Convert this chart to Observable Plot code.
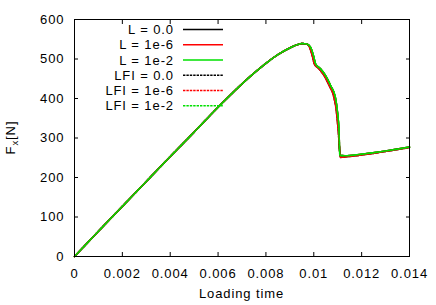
<!DOCTYPE html>
<html><head><meta charset="utf-8">
<script src="https://cdn.jsdelivr.net/npm/d3@7"></script>
<script src="https://cdn.jsdelivr.net/npm/@observablehq/plot@0.6"></script>
<style>body{margin:0;background:#fff} svg{display:block}</style>
</head><body><div id="chart"></div>
<script>
// ---- data ----
const tRise = [0, 0.001, 0.002, 0.003, 0.004, 0.005, 0.006, 0.0065, 0.007, 0.0075, 0.008, 0.0085, 0.009, 0.0093, 0.0095, 0.0097];
const fRise = [0, 64, 127, 190, 253, 315, 378, 408, 437, 464, 489, 511, 528, 536, 539, 538];
// softening branch, curve A (L = ..., LFI = 1e-2)
const tDropA = [0.00986, 0.0100, 0.01007, 0.01028, 0.01049, 0.0107, 0.0109, 0.01098, 0.01105, 0.01109, 0.0113, 0.0120, 0.0130, 0.0140];
const fDropA = [530, 505, 488, 475, 458, 433, 403, 370, 320, 256, 255, 259, 267, 277];
// softening branch, curve B (LFI = 0.0, LFI = 1e-6)
const tDropB = [0.00982, 0.00995, 0.01002, 0.01022, 0.01043, 0.01064, 0.01084, 0.01094, 0.01102, 0.01112, 0.0113, 0.0120, 0.0130, 0.0140];
const fDropB = [530, 505, 488, 475, 458, 433, 403, 370, 320, 251, 252, 257, 266, 276];

const seriesNames = ["L = 0.0", "L = 1e-6", "L = 1e-2", "LFI = 0.0", "LFI = 1e-6", "LFI = 1e-2"];
const seriesColors = ["#000000", "#ff0000", "#00e000", "#000000", "#ff0000", "#00e000"];
const seriesDashed = [false, false, false, true, true, true];
const seriesBranch = ["A", "A", "A", "B", "B", "A"];

const xTicks = [0, 0.002, 0.004, 0.006, 0.008, 0.01, 0.012, 0.014];
const xTickLabels = ["0", "0.002", "0.004", "0.006", "0.008", "0.01", "0.012", "0.014"];
const yTicks = [0, 100, 200, 300, 400, 500, 600];
const yTickLabels = ["0", "100", "200", "300", "400", "500", "600"];

// ---- build table ----
const branches = {A: [tDropA, fDropA], B: [tDropB, fDropB]};
const rows = [];
seriesNames.forEach((name, i) => {
  const [td, fd] = branches[seriesBranch[i]];
  const t = tRise.concat(td), f = fRise.concat(fd);
  t.forEach((v, j) => rows.push({series: name, t: v, f: f[j]}));
});

const W = 436, H = 305, ML = 74, MR = 27, MT = 19, MB = 49;
const lineMarks = seriesNames.map((name, i) =>
  Plot.line(rows.filter(r => r.series === name), {
    x: "t", y: "f", stroke: seriesColors[i], strokeWidth: 1.6, curve: "monotone-x",
    strokeDasharray: seriesDashed[i] ? "2.4,1" : null
  })
);

const plot = Plot.plot({
  width: W, height: H, marginLeft: ML, marginRight: MR, marginTop: MT, marginBottom: MB,
  style: {fontFamily: "'Liberation Sans', Arial, sans-serif", fontSize: "13px", letterSpacing: "0.9px", background: "#fff", color: "#000"},
  x: {domain: [0, 0.014]},
  y: {domain: [0, 600]},
  marks: [
    ...lineMarks,
    Plot.frame({stroke: "#000", strokeWidth: 1}),
    Plot.axisX({ticks: xTicks, anchor: "bottom", tickSize: -4, tickFormat: () => "", label: null}),
    Plot.axisX({ticks: xTicks, anchor: "top", tickSize: -4, tickFormat: () => "", label: null}),
    Plot.axisY({ticks: yTicks, anchor: "left", tickSize: -4, tickFormat: () => "", label: null}),
    Plot.axisY({ticks: yTicks, anchor: "right", tickSize: -4, tickFormat: () => "", label: null}),
    Plot.axisX({ticks: xTicks, anchor: "bottom", tickSize: 0, tickPadding: 12, label: null,
      tickFormat: d => xTickLabels[xTicks.indexOf(d)]}),
    Plot.axisY({ticks: yTicks, anchor: "left", tickSize: 0, tickPadding: 10, label: null,
      tickFormat: d => yTickLabels[yTicks.indexOf(d)]})
  ]
});
document.getElementById("chart").appendChild(plot);

const svg = d3.select(plot);
// axis titles
svg.append("text").attr("x", (ML + W - MR) / 2).attr("y", 297.5)
  .attr("text-anchor", "middle").attr("fill", "#000").text("Loading time");
const yl = svg.append("text").attr("transform", `translate(14.5,${(MT + H - MB) / 2}) rotate(-90)`)
  .attr("text-anchor", "middle").attr("fill", "#000");
yl.append("tspan").text("F");
yl.append("tspan").attr("font-size", "9.5px").attr("dy", "3").text("x");
yl.append("tspan").attr("dy", "-3").text("[N]");

// legend
const lg = svg.append("g");
seriesNames.forEach((name, i) => {
  const cy = 29.5 + i * 15.25;
  lg.append("text").attr("x", 174).attr("y", cy + 4.6).attr("text-anchor", "end")
    .attr("fill", "#000").text(name);
  lg.append("line").attr("x1", 183).attr("x2", 223).attr("y1", cy).attr("y2", cy)
    .attr("stroke", seriesColors[i]).attr("stroke-width", 1.6)
    .attr("stroke-dasharray", seriesDashed[i] ? "2.4,1" : null);
});
</script></body></html>
